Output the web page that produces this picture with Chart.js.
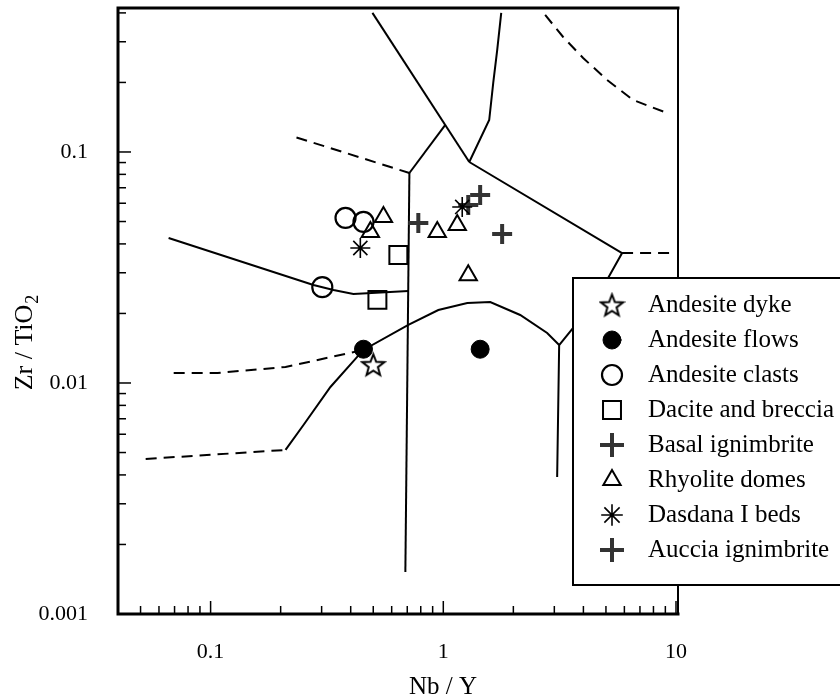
<!DOCTYPE html>
<html>
<head>
<meta charset="utf-8">
<title>Zr/TiO2 - Nb/Y</title>
<script src="https://cdn.jsdelivr.net/npm/chart.js@4.4.1/dist/chart.umd.min.js"></script>
<style>
  html, body { margin: 0; padding: 0; background: #fff; }
  #wrap { width: 840px; height: 699px; }
</style>
</head>
<body>
<div id="wrap"><canvas id="chart" width="840" height="699"></canvas></div>
<script>
// axis ranges and tick labels
const xRange = [0.04, 10.2];
const yRange = [0.001, 0.42];
const xTicks = [0.1, 1, 10];
const yTicks = [0.001, 0.01, 0.1];

// samples as [Nb/Y, Zr/TiO2]
const andesiteDyke = [[0.50, 0.0120]];
const andesiteFlows = [[0.454, 0.0140], [1.44, 0.0140]];
const andesiteClasts = [[0.302, 0.0260], [0.380, 0.0518], [0.454, 0.0498]];
const daciteBreccia = [[0.521, 0.0229], [0.641, 0.0358]];
const basalIgnimbrite = [[0.781, 0.0493], [1.79, 0.0442]];
const rhyoliteDomes = [[0.553, 0.0523], [0.486, 0.0450], [0.942, 0.0450], [1.148, 0.0483], [1.28, 0.0293]];
const dasdanaBeds = [[0.440, 0.0384], [1.206, 0.0578]];
const aucciaIgnimbrite = [[1.28, 0.0590], [1.44, 0.0652]];

// field boundaries
const solidBounds = [
  [[0.496, 0.400], [1.293, 0.0905]],
  [[0.715, 0.0811], [1.02, 0.1309]],
  [[0.715, 0.0811], [0.687, 0.00152]],
  [[1.774, 0.400], [1.705, 0.2764], [1.639, 0.199], [1.575, 0.1375], [1.293, 0.0905]],
  [[1.293, 0.0905], [5.865, 0.0365], [5.108, 0.0285], [3.614, 0.0173], [3.147, 0.0146], [3.085, 0.00392]],
  [[0.2099, 0.00513], [0.2507, 0.00658], [0.3273, 0.00961], [0.4535, 0.0139], [0.7075, 0.01783],
   [0.952, 0.0207], [1.268, 0.0222], [1.591, 0.02242], [2.14, 0.0197], [2.795, 0.01646], [3.147, 0.0146]],
  [[0.066, 0.0424], [0.2767, 0.02655], [0.3373, 0.02527], [0.4109, 0.02428], [0.7075, 0.02502]]
];
const dashedBounds = [
  [[0.0526, 0.00469], [0.2099, 0.00513]],
  [[0.0694, 0.01105], [0.1072, 0.01105], [0.2099, 0.01173], [0.4535, 0.0139]],
  [[0.2339, 0.1156], [0.715, 0.0811]],
  [[2.74, 0.3918], [3.273, 0.3146], [3.99, 0.2552], [5.057, 0.2049], [6.539, 0.168], [9.15, 0.1475]],
  [[5.865, 0.0365], [9.61, 0.0365]]
];

const serif = "'Liberation Serif', 'Times New Roman', serif";

// 5 point outline star (not one of the built in styles)
function makeStar(size) {
  const c = document.createElement('canvas');
  c.width = c.height = size;
  const g = c.getContext('2d');
  const cx = size / 2, cy = size / 2 + 1, R = size / 2 - 2, r = R * 0.42;
  g.beginPath();
  for (let i = 0; i < 10; i++) {
    const a = -Math.PI / 2 + i * Math.PI / 5;
    const rr = i % 2 ? r : R;
    g.lineTo(cx + rr * Math.cos(a), cy + rr * Math.sin(a));
  }
  g.closePath();
  g.fillStyle = '#fff';
  g.fill();
  g.lineWidth = 2;
  g.strokeStyle = '#000';
  g.stroke();
  return c;
}
const starImg = makeStar(27);

const toXY = arr => arr.map(p => ({ x: p[0], y: p[1] }));

// marker styles, shared by datasets and legend
const groups = [
  { label: 'Andesite dyke', data: andesiteDyke, style: starImg, radius: 11, fill: '#fff', stroke: '#000', bw: 2 },
  { label: 'Andesite flows', data: andesiteFlows, style: 'circle', radius: 9, fill: '#000', stroke: '#000', bw: 1 },
  { label: 'Andesite clasts', data: andesiteClasts, style: 'circle', radius: 10, fill: 'rgba(255,255,255,0)', stroke: '#000', bw: 2.2 },
  { label: 'Dacite and breccia', data: daciteBreccia, style: 'rect', radius: 12.7, fill: 'rgba(255,255,255,0)', stroke: '#000', bw: 2 },
  { label: 'Basal ignimbrite', data: basalIgnimbrite, style: 'cross', radius: 10, fill: '#333', stroke: '#333', bw: 4 },
  { label: 'Rhyolite domes', data: rhyoliteDomes, style: 'triangle', radius: 10, fill: 'rgba(255,255,255,0)', stroke: '#000', bw: 2 },
  { label: 'Dasdana I beds', data: dasdanaBeds, style: 'star', radius: 10, fill: '#000', stroke: '#000', bw: 1.6 },
  { label: 'Auccia ignimbrite', data: aucciaIgnimbrite, style: 'cross', radius: 10, fill: '#333', stroke: '#333', bw: 4 }
];

const datasets = [];
groups.forEach(g => {
  datasets.push({
    label: g.label,
    data: toXY(g.data),
    showLine: false,
    pointStyle: g.style,
    pointRadius: g.radius,
    pointBackgroundColor: g.fill,
    pointBorderColor: g.stroke,
    pointBorderWidth: g.bw,
    order: 0
  });
});
solidBounds.forEach(b => {
  datasets.push({ data: toXY(b), showLine: true, pointRadius: 0, borderColor: '#000', borderWidth: 2, tension: 0, order: 1 });
});
dashedBounds.forEach(b => {
  datasets.push({ data: toXY(b), showLine: true, pointRadius: 0, borderColor: '#000', borderWidth: 2, borderDash: [11, 7], tension: 0, order: 1 });
});

// frame, inward ticks, axis titles and the boxed legend
const decorations = {
  id: 'decorations',
  afterDraw(chart) {
    const { ctx, chartArea: a, scales } = chart;
    ctx.save();
    ctx.strokeStyle = '#000';

    // inward minor/major ticks
    ctx.lineWidth = 1.5;
    for (let e = -3; e <= 1; e++) {
      for (let m = 1; m <= 9; m++) {
        const v = m * Math.pow(10, e);
        const len = m === 1 ? 13 : 8;
        if (v > xRange[0] * 1.001 && v < xRange[1]) {
          const px = scales.x.getPixelForValue(v);
          ctx.beginPath(); ctx.moveTo(px, a.bottom); ctx.lineTo(px, a.bottom - len); ctx.stroke();
        }
        if (v > yRange[0] * 1.001 && v < yRange[1]) {
          const py = scales.y.getPixelForValue(v);
          ctx.beginPath(); ctx.moveTo(a.left, py); ctx.lineTo(a.left + len, py); ctx.stroke();
        }
      }
    }

    // frame
    ctx.lineCap = 'square';
    ctx.lineWidth = 3;
    ctx.beginPath();
    ctx.moveTo(a.right, a.top); ctx.lineTo(a.left, a.top); ctx.lineTo(a.left, a.bottom); ctx.lineTo(a.right, a.bottom);
    ctx.stroke();
    ctx.lineWidth = 2;
    ctx.beginPath(); ctx.moveTo(a.right, a.top); ctx.lineTo(a.right, a.bottom); ctx.stroke();

    // axis titles
    ctx.fillStyle = '#000';
    ctx.font = '25px ' + serif;
    ctx.textAlign = 'center';
    ctx.textBaseline = 'middle';
    ctx.fillText('Nb / Y', 443, 687);

    ctx.save();
    ctx.translate(25, 343);
    ctx.rotate(-Math.PI / 2);
    ctx.textAlign = 'left';
    const main = 'Zr / TiO';
    ctx.font = '26px ' + serif;
    const w1 = ctx.measureText(main).width;
    ctx.font = '18px ' + serif;
    const w2 = ctx.measureText('2').width;
    const x0 = -(w1 + w2) / 2;
    ctx.font = '26px ' + serif;
    ctx.fillText(main, x0, 0);
    ctx.font = '18px ' + serif;
    ctx.fillText('2', x0 + w1 + 1, 8);
    ctx.restore();

    // legend box
    const lx = 573, ly = 278, lh = 307;
    ctx.fillStyle = '#fff';
    ctx.fillRect(lx, ly, 300, lh);
    ctx.lineWidth = 2;
    ctx.strokeRect(lx, ly, 300, lh);

    groups.forEach((g, i) => {
      const yy = 305 + i * 35;
      ctx.fillStyle = g.fill;
      ctx.strokeStyle = g.stroke;
      ctx.lineWidth = g.bw;
      Chart.helpers.drawPoint(ctx, { pointStyle: g.style, radius: g.radius, borderWidth: g.bw, rotation: 0 }, 612, yy);
      ctx.fillStyle = '#000';
      ctx.font = '25px ' + serif;
      ctx.textAlign = 'left';
      ctx.textBaseline = 'middle';
      ctx.fillText(g.label, 648, yy);
    });
    ctx.restore();
  }
};

new Chart(document.getElementById('chart'), {
  type: 'scatter',
  data: { datasets },
  options: {
    responsive: false,
    animation: false,
    events: [],
    layout: { autoPadding: false, padding: { left: 0, right: 162, top: 8, bottom: 0 } },
    plugins: { legend: { display: false }, tooltip: { enabled: false } },
    scales: {
      x: {
        type: 'logarithmic',
        min: xRange[0],
        max: xRange[1],
        grid: { display: false },
        border: { display: false },
        afterBuildTicks: s => { s.ticks = xTicks.map(v => ({ value: v })); },
        afterFit: s => { s.height = 85; s.paddingLeft = 0; s.paddingRight = 0; },
        ticks: { color: '#000', padding: 17, maxRotation: 0, font: { family: serif, size: 22 }, callback: v => String(v) }
      },
      y: {
        type: 'logarithmic',
        min: yRange[0],
        max: yRange[1],
        grid: { display: false },
        border: { display: false },
        afterBuildTicks: s => { s.ticks = yTicks.map(v => ({ value: v })); },
        afterFit: s => { s.width = 118; s.paddingTop = 0; s.paddingBottom = 0; },
        ticks: { color: '#000', padding: 22, font: { family: serif, size: 22 }, callback: v => String(v) }
      }
    }
  },
  plugins: [decorations]
});
</script>
</body>
</html>
